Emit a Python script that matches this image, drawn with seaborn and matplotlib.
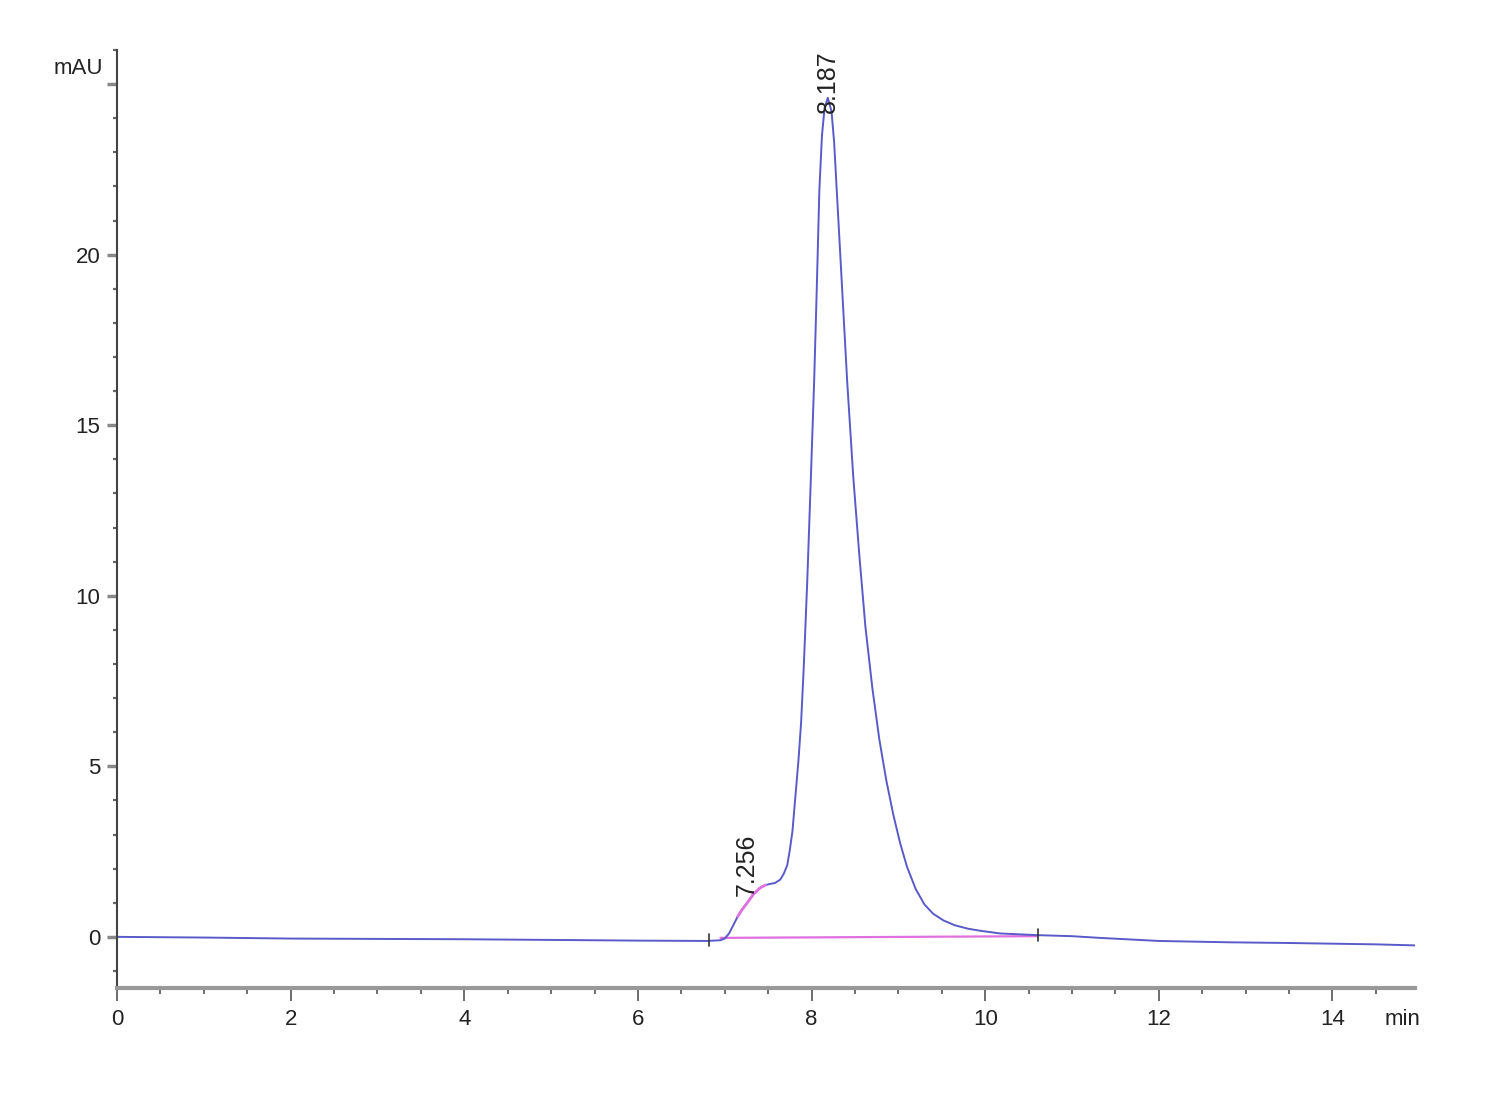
import pandas as pd
import matplotlib.pyplot as plt
import seaborn as sns
from matplotlib.ticker import MultipleLocator

# -------------------------------------------------
# Chromatogram data
# -------------------------------------------------
time_min = [
    0.0, 1.0, 2.0, 3.0, 4.0, 5.0, 6.0, 6.8, 6.95, 7.0,
    7.05, 7.10, 7.15, 7.20, 7.26, 7.33, 7.41, 7.47, 7.52, 7.58,
    7.64, 7.68, 7.72, 7.75, 7.78, 7.81, 7.85, 7.88, 7.91, 7.95,
    7.99, 8.03, 8.06, 8.09, 8.12, 8.15, 8.187, 8.23, 8.26, 8.29,
    8.35, 8.41, 8.48, 8.55, 8.62, 8.70, 8.78, 8.86, 8.94, 9.02,
    9.10, 9.20, 9.30, 9.40, 9.52, 9.65, 9.80, 9.94, 10.17, 10.6,
    11.0, 11.32, 12.0, 12.82, 13.5, 14.0, 14.5, 14.95,
]
absorbance = [
    0.00, -0.02, -0.05, -0.06, -0.07, -0.09, -0.11, -0.12, -0.10, -0.05,
    0.10, 0.35, 0.60, 0.80, 1.00, 1.25, 1.44, 1.52, 1.55, 1.58,
    1.68, 1.85, 2.10, 2.55, 3.10, 4.00, 5.20, 6.30, 7.90, 10.40,
    13.30, 16.30, 19.00, 21.90, 23.50, 24.30, 24.60, 24.20, 23.30, 21.90,
    19.10, 16.30, 13.50, 11.20, 9.10, 7.30, 5.80, 4.60, 3.60, 2.75,
    2.05, 1.40, 0.95, 0.68, 0.48, 0.34, 0.24, 0.18, 0.10, 0.05,
    0.02, -0.03, -0.12, -0.16, -0.18, -0.20, -0.22, -0.25,
]

# integration baseline and shoulder drop
baseline_t = [6.95, 10.6]
baseline_v = [-0.03, 0.02]
shoulder_t = [7.15, 7.20, 7.26, 7.33, 7.41, 7.47]
shoulder_v = [0.60, 0.80, 1.00, 1.25, 1.44, 1.52]

# integration event marks
event_t = [6.82, 10.61]
event_v = [-0.12, 0.04]

# peak retention time labels
peak_rt = [7.256, 8.187]
peak_label_y = [1.2, 24.15]

LINE_COLOR = "#5a5ac8"
BASE_COLOR = "#e070e0"


def main():

    sns.set_style("white")
    plt.rcParams["font.family"] = ["Liberation Sans Narrow", "Liberation Sans", "DejaVu Sans"]

    df = pd.DataFrame({"time": time_min, "mAU": absorbance})

    fig = plt.figure(figsize=(15, 11), dpi=100)
    ax = fig.add_axes([0.078, 0.1018, 0.8653, 0.8527])

    sns.lineplot(
        data=pd.DataFrame({"t": baseline_t, "v": baseline_v}),
        x="t", y="v", color=BASE_COLOR, linewidth=1.6, ax=ax
    )

    sns.lineplot(data=df, x="time", y="mAU", color=LINE_COLOR,
                 linewidth=1.4, sort=False, ax=ax)

    sns.lineplot(
        data=pd.DataFrame({"t": shoulder_t, "v": shoulder_v}),
        x="t", y="v", color=BASE_COLOR, linewidth=2.0, ax=ax
    )

    # integration start / stop marks
    for t, v in zip(event_t, event_v):
        ax.plot([t, t], [v - 0.15, v + 0.2], color="#333333", linewidth=1.2)

    for rt, y in zip(peak_rt, peak_label_y):
        ax.text(rt, y, f"{rt:.3f}", rotation=90, ha="center", va="bottom",
                fontsize=18, color="#222222")

    ax.set_xlim(0, 14.95)
    ax.set_ylim(-1.5, 26)

    ax.xaxis.set_major_locator(MultipleLocator(2))
    ax.xaxis.set_minor_locator(MultipleLocator(0.5))
    ax.yaxis.set_major_locator(MultipleLocator(5))
    ax.yaxis.set_minor_locator(MultipleLocator(1))

    ax.set_yticks([0, 5, 10, 15, 20, 25])
    ax.set_yticklabels(["0", "5", "10", "15", "20", ""])

    ax.tick_params(axis="y", which="major", direction="out", length=7,
                   width=2.5, color="#888888", labelsize=16, pad=5,
                   labelcolor="#222222", left=True)
    ax.tick_params(axis="y", which="minor", direction="out", length=3,
                   width=1.6, color="#666666", left=True)
    ax.tick_params(axis="x", which="major", direction="out", length=9,
                   width=1.2, color="#555555", labelsize=16, pad=6,
                   labelcolor="#222222", bottom=True)
    ax.tick_params(axis="x", which="minor", direction="out", length=4,
                   width=1.2, color="#555555", bottom=True)

    ax.set_xlabel("")
    ax.set_ylabel("")

    for side in ["top", "right"]:
        ax.spines[side].set_visible(False)
    ax.spines["left"].set_color("#444444")
    ax.spines["left"].set_linewidth(1.5)
    ax.spines["bottom"].set_color("#999999")
    ax.spines["bottom"].set_linewidth(3)

    fig.text(0.052, 0.938, "mAU", ha="center", va="center", fontsize=16, color="#222222")
    fig.text(0.935, 0.073, "min", ha="center", va="center", fontsize=16, color="#222222")

    fig.savefig("out.png", dpi=100, facecolor="white")
    plt.close(fig)


if __name__ == "__main__":
    main()
